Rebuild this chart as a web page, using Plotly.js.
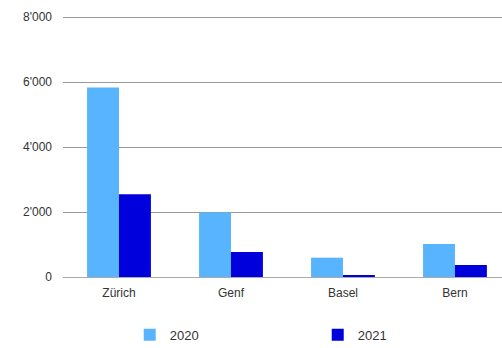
<!DOCTYPE html>
<html><head><meta charset="utf-8">
<script src="https://cdn.plot.ly/plotly-3.0.1.min.js"></script>
<style>html,body{margin:0;padding:0;background:#fff}</style>
</head><body>
<div id="chart" style="width:502px;height:348px"></div>
<script>
const cities = ["Zürich", "Genf", "Basel", "Bern"];
const values2020 = [5840, 1990, 595, 1015];
const values2021 = [2545, 770, 60, 370];
const seriesNames = ["2020", "2021"];
const yTicks = [0, 2000, 4000, 6000, 8000];

const font = {family: "Liberation Sans, Arial, sans-serif", size: 12, color: "#333333"};
const data = [
  {type: "bar", name: seriesNames[0], x: cities, y: values2020, marker: {color: "#58B4FF"}},
  {type: "bar", name: seriesNames[1], x: cities, y: values2021, marker: {color: "#0000DC"}}
];
const layout = {
  width: 502, height: 348,
  margin: {l: 63, r: 0, t: 14, b: 71, autoexpand: false},
  separators: ".'",
  font: font,
  paper_bgcolor: "#fff", plot_bgcolor: "#fff",
  barmode: "group", bargap: 0.43, bargroupgap: 0,
  xaxis: {range: [-0.5, 3.42], showgrid: false, showline: true, linecolor: "#aaaaaa", linewidth: 1,
          ticks: "", ticklabelstandoff: 5, tickfont: font, fixedrange: true},
  yaxis: {range: [0, 8100], tickvals: yTicks, tickformat: ",d", showgrid: true, gridcolor: "#999999", gridwidth: 1,
          zeroline: false, showline: false, ticks: "", ticklabelstandoff: 10, tickfont: font},
  showlegend: true,
  legend: {orientation: "h", x: 0.152, xanchor: "left", y: -0.22, yanchor: "middle",
           font: {family: "Liberation Sans, Arial, sans-serif", size: 13, color: "#333333"},
           itemwidth: 30, entrywidth: 143, entrywidthmode: "pixels", traceorder: "normal"}
};
Plotly.newPlot("chart", data, layout, {displayModeBar: false, staticPlot: true});
</script>
</body></html>
